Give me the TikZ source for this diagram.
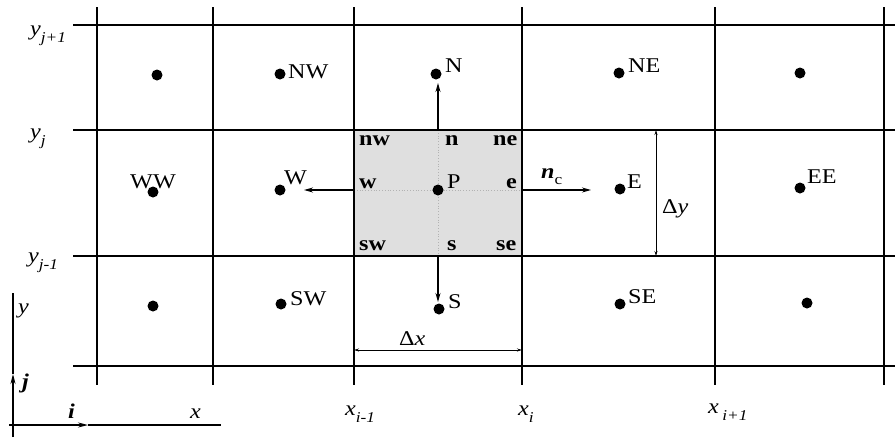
\documentclass[tikz,border=0pt]{standalone}
\usepackage{fontspec}
\setmainfont[FakeStretch=1.15]{Liberation Serif}
\usetikzlibrary{arrows.meta}
\newcommand\sbs[1]{\raisebox{-0.35em}{\fontsize{15}{15}\selectfont\itshape #1}}
\begin{document}
\begin{tikzpicture}[x=1pt,y=-1pt,
  gridline/.style={line width=1.5pt},
  cpt/.style={circle,fill,inner sep=0pt,minimum size=11pt},
  lab/.style={anchor=base west,inner sep=0pt,font=\fontsize{21}{23}\selectfont},
  face/.style={anchor=base west,inner sep=0pt,font=\fontsize{21}{23}\selectfont\bfseries},
  flux/.style={line width=1.2pt,-{Stealth[length=9pt,width=5pt]}},
  dimline/.style={line width=0.9pt,{Stealth[length=5pt,width=3pt]}-{Stealth[length=5pt,width=3pt]}},
  axisline/.style={line width=1.2pt},
  axarrow/.style={line width=1.2pt,-{Stealth[length=10pt,width=5pt]}}]
\useasboundingbox (0,0) rectangle (895,437);
% shaded control volume
\fill[gray!25] (354,130) rectangle (522,256);
\draw[gray!60,dotted,line width=0.8pt] (354,190) -- (522,190) (438,130) -- (438,256);
% grid
\foreach \x in {97,213,354,522,715,884} \draw[gridline] (\x,7) -- (\x,385);
\foreach \y in {25,130,256,366} \draw[gridline] (73,\y) -- (895,\y);
% nodes (cell centres)
\node[cpt] (c11) at (157,75) {};
\node[cpt] (NW) at (280,74) {};
\node[cpt] (N) at (436,74) {};
\node[cpt] (NE) at (619,73) {};
\node[cpt] (c15) at (800,73) {};
\node[cpt] (WW) at (153,192) {};
\node[cpt] (W) at (280,190) {};
\node[cpt] (P) at (438,190) {};
\node[cpt] (E) at (620,189) {};
\node[cpt] (EE) at (800,188) {};
\node[cpt] (c31) at (153,306) {};
\node[cpt] (SW) at (281,304) {};
\node[cpt] (S) at (439,309) {};
\node[cpt] (SE) at (620,304) {};
\node[cpt] (c35) at (807,303) {};
% node labels
\node[lab] (lNW) at (288,78) {NW};
\node[lab] (lN) at (445,72) {N};
\node[lab] (lNE) at (628,72) {NE};
\node[lab,anchor=base] (lWW) at (153,188) {WW};
\node[lab] (lW) at (284,184) {W};
\node[lab] (lP) at (447,188) {P};
\node[lab] (lE) at (627,188) {E};
\node[lab] (lEE) at (807,183) {EE};
\node[lab] (lSW) at (290,305) {SW};
\node[lab] (lS) at (448,308) {S};
\node[lab] (lSE) at (628,303) {SE};
% face labels
\node[face] (fnw) at (359,145) {nw};
\node[face] (fn) at (445,145) {n};
\node[face] (fne) at (493,145) {ne};
\node[face] (fw) at (359,188) {w};
\node[face] (fe) at (506,188) {e};
\node[face] (fsw) at (359,250) {sw};
\node[face] (fs) at (447,250) {s};
\node[face] (fse) at (496,250) {se};
% face coordinates and flux arrows
\coordinate (nf) at (438,130);
\coordinate (nt) at (438,83);
\coordinate (wf) at (354,190);
\coordinate (wt) at (304,190);
\coordinate (ef) at (522,190);
\coordinate (et) at (591,190);
\coordinate (sf) at (438,256);
\coordinate (st) at (438,302);
\draw[flux] (nf) -- (nt);
\draw[flux] (wf) -- (wt);
\draw[flux] (ef) -- (et);
\draw[flux] (sf) -- (st);
\node[lab] (nc) at (541,178) {\textbf{\textit{n}}\raisebox{-0.3em}{\fontsize{15}{15}\selectfont c}};
% dimensions
\coordinate (dy1) at (656,130);
\coordinate (dy2) at (656,256);
\draw[dimline] (dy1) -- (dy2);
\node[lab] (ldy) at (662,213) {Δ\textit{y}};
\coordinate (dx1) at (354,350);
\coordinate (dx2) at (522,350);
\draw[dimline] (dx1) -- (dx2);
\node[lab] (ldx) at (399,345) {Δ\textit{x}};
% row labels
\node[lab] (yj1) at (30,35) {\textit{y}\sbs{j+1}};
\node[lab] (yj) at (30,138) {\textit{y}\sbs{j}};
\node[lab] (yjm) at (28,262) {\textit{y}\sbs{j-1}};
% column labels
\node[lab] (xim) at (345,415) {\textit{x}\sbs{i-1}};
\node[lab] (xi) at (518,415) {\textit{x}\sbs{i}};
\node[lab] (xip) at (708,413) {\textit{x}\,\sbs{i+1}};
% axes
\coordinate (vb) at (13,437);
\coordinate (vm) at (13,374);
\coordinate (vt) at (13,293);
\draw[axarrow] (vb) -- (vm);
\draw[axisline] (vm) -- (vt);
\coordinate (hl) at (9,425);
\coordinate (hm) at (88,425);
\coordinate (hr) at (221,425);
\draw[axarrow] (hl) -- (hm);
\draw[axisline] (hm) -- (hr);
\node[lab] (ay) at (18,313) {\textit{y}};
\node[lab] (aj) at (22,388) {\textbf{\textit{j}}};
\node[lab] (ai) at (68,418) {\textbf{\textit{i}}};
\node[lab] (ax) at (190,418) {\textit{x}};
\end{tikzpicture}
\end{document}
